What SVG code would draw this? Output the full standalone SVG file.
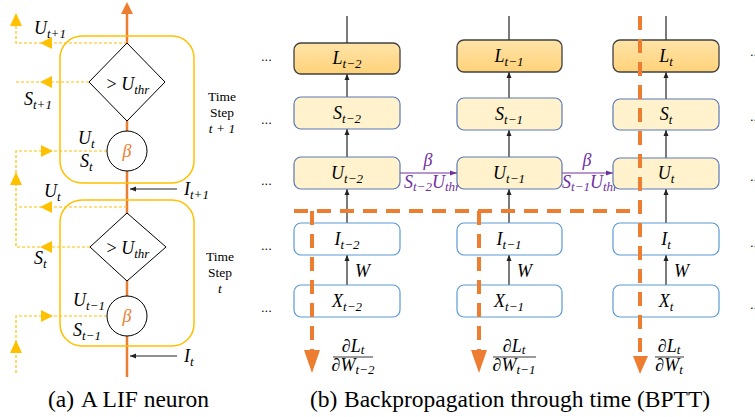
<svg xmlns="http://www.w3.org/2000/svg" width="755" height="417" viewBox="0 0 755 417">
<style>
.m{font-family:"Liberation Serif","DejaVu Serif",serif;font-style:italic;font-size:18px;fill:#000}
.s{font-size:13px}
.up{font-style:normal}
.tx{font-family:"Liberation Serif",serif;font-size:13.5px;fill:#000;text-anchor:middle}
.cap{font-family:"Liberation Serif",serif;font-size:23.5px;fill:#000}
.dots{font-family:"Liberation Sans",sans-serif;font-size:13px;fill:#000}
.gbox{fill:none;stroke:#FFC000;stroke-width:1.5}
.shape{fill:#fff;stroke:#000;stroke-width:1}
.gd{fill:none;stroke:#FFC000;stroke-width:1.2;stroke-dasharray:3 2}
.gh{fill:#FFC000}
.lbox{fill:url(#lg);stroke:#404040;stroke-width:1.3}
.ybox{fill:#FFF2CC;stroke:#5A78B4;stroke-width:1.2}
.wbox{fill:#fff;stroke:#5B9BD5;stroke-width:1.2}
.blk{stroke:#222;stroke-width:1.2;fill:none}
.od{fill:none;stroke:#ED7D31;stroke-width:4;stroke-dasharray:14 9}
.oh{fill:#ED7D31}
.pu{stroke:#7030A0;stroke-width:1.2;fill:none}
</style>
<defs>
<linearGradient id="lg" x1="0" y1="0" x2="0" y2="1">
<stop offset="0" stop-color="#FFE4A8"/>
<stop offset="1" stop-color="#FFD27A"/>
</linearGradient>
<marker id="ab" markerWidth="6" markerHeight="6" refX="6" refY="3" orient="auto" markerUnits="userSpaceOnUse">
<path d="M0,0.5 L6,3 L0,5.5 z" fill="#222"/>
</marker>
<marker id="ap" markerWidth="7" markerHeight="6" refX="7" refY="3" orient="auto" markerUnits="userSpaceOnUse">
<path d="M0,0.5 L7,3 L0,5.5 z" fill="#7030A0"/>
</marker>
</defs>

<!-- (a) LIF neuron -->
<g id="connectors-a">
<line x1="127" y1="12" x2="127" y2="377" stroke="#ED7D31" stroke-width="2.5"/>
<polygon class="oh" points="121,14 133,14 127,2"/>
<path class="gd" d="M127,43 H16 V24"/>
<path class="gd" d="M89,82 H16"/>
<polygon class="gh" points="40,43 52,37 52,49"/>
<polygon class="gh" points="40,82 52,76 52,88"/>
<polygon class="gh" points="16,13 10,26 22,26"/>
<path class="gd" d="M107,151 H16 V184"/>
<polygon class="gh" points="53,151 41,145 41,157"/>
<path class="gd" d="M127,207 H16"/>
<path class="gd" d="M90,247 H16 V184"/>
<polygon class="gh" points="40,207 52,201 52,213"/>
<polygon class="gh" points="40,247 52,241 52,253"/>
<polygon class="gh" points="16,172 10,185 22,185"/>
<path class="gd" d="M107,316 H16 V374"/>
<polygon class="gh" points="53,316 41,310 41,322"/>
<polygon class="gh" points="16,340 10,353 22,353"/>
<line class="blk" x1="177" y1="189" x2="130" y2="189" marker-end="url(#ab)"/>
<line class="blk" x1="177" y1="356" x2="130" y2="356" marker-end="url(#ab)"/>
</g>

<g id="step-t1">
<rect class="gbox" x="60" y="36" width="134" height="147" rx="22"/>
</g>
<g id="threshold-t1">
<polygon class="shape" points="127,43 165,82 127,121 89,82"/>
<text class="m" x="128" y="90" text-anchor="middle"><tspan class="up">&gt; </tspan>U<tspan class="s" dy="4">thr</tspan></text>
</g>
<g id="decay-t1">
<circle class="shape" cx="127" cy="151" r="20"/>
<text class="m" x="127" y="157" text-anchor="middle" style="fill:#ED7D31">β</text>
</g>
<g id="step-t">
<rect class="gbox" x="60" y="200" width="134" height="146" rx="22"/>
</g>
<g id="threshold-t">
<polygon class="shape" points="127,213 166,247 127,281 90,247"/>
<text class="m" x="128" y="254" text-anchor="middle"><tspan class="up">&gt; </tspan>U<tspan class="s" dy="4">thr</tspan></text>
</g>
<g id="decay-t">
<circle class="shape" cx="127" cy="316" r="20"/>
<text class="m" x="127" y="322" text-anchor="middle" style="fill:#ED7D31">β</text>
</g>

<g id="labels-a">
<text class="m" x="34" y="34">U<tspan class="s" dy="4">t+1</tspan></text>
<text class="m" x="24" y="105">S<tspan class="s" dy="4">t+1</tspan></text>
<text class="m" x="78" y="144">U<tspan class="s" dy="4">t</tspan></text>
<text class="m" x="80" y="167">S<tspan class="s" dy="4">t</tspan></text>
<text class="m" x="44" y="197">U<tspan class="s" dy="4">t</tspan></text>
<text class="m" x="34" y="264">S<tspan class="s" dy="4">t</tspan></text>
<text class="m" x="73" y="306">U<tspan class="s" dy="4">t−1</tspan></text>
<text class="m" x="73" y="336">S<tspan class="s" dy="4">t−1</tspan></text>
<text class="m" x="184" y="195">I<tspan class="s" dy="4">t+1</tspan></text>
<text class="m" x="184" y="362">I<tspan class="s" dy="4">t</tspan></text>
<text class="tx" x="222" y="101">Time</text>
<text class="tx" x="222" y="117">Step</text>
<text class="tx" x="222" y="133" font-style="italic">t + 1</text>
<text class="tx" x="220" y="261">Time</text>
<text class="tx" x="220" y="277">Step</text>
<text class="tx" x="220" y="293" font-style="italic">t</text>
<text class="cap" x="48" y="407">(a)</text>
<text class="cap" x="81" y="407">A LIF neuron</text>
</g>

<!-- (b) BPTT -->
<g id="connectors-b">
<line class="blk" x1="347" y1="16" x2="347" y2="43"/>
<line class="blk" x1="509" y1="16" x2="509" y2="40"/>
<line class="blk" x1="666" y1="16" x2="666" y2="40"/>
<line class="blk" x1="347" y1="97" x2="347" y2="74" marker-end="url(#ab)"/>
<line class="blk" x1="509" y1="98" x2="509" y2="72" marker-end="url(#ab)"/>
<line class="blk" x1="666" y1="99" x2="666" y2="72" marker-end="url(#ab)"/>
<line class="blk" x1="347" y1="157" x2="347" y2="129" marker-end="url(#ab)"/>
<line class="blk" x1="509" y1="157" x2="509" y2="130" marker-end="url(#ab)"/>
<line class="blk" x1="666" y1="158" x2="666" y2="130" marker-end="url(#ab)"/>
<line class="blk" x1="347" y1="223" x2="347" y2="189" marker-end="url(#ab)"/>
<line class="blk" x1="509" y1="223" x2="509" y2="189" marker-end="url(#ab)"/>
<line class="blk" x1="666" y1="223" x2="666" y2="189" marker-end="url(#ab)"/>
<line class="blk" x1="347" y1="285" x2="347" y2="255" marker-end="url(#ab)"/>
<line class="blk" x1="509" y1="285" x2="509" y2="255" marker-end="url(#ab)"/>
<line class="blk" x1="666" y1="285" x2="666" y2="255" marker-end="url(#ab)"/>
<text class="m" x="355" y="277" font-size="16">W</text>
<text class="m" x="517" y="277" font-size="16">W</text>
<text class="m" x="674" y="277" font-size="16">W</text>
<line class="pu" x1="400" y1="173" x2="457" y2="173" marker-end="url(#ap)"/>
<line class="pu" x1="562" y1="173" x2="613" y2="173" marker-end="url(#ap)"/>
<text class="m" x="428" y="166" text-anchor="middle" style="fill:#7030A0">β</text>
<text class="m" x="587" y="166" text-anchor="middle" style="fill:#7030A0">β</text>
<text class="m" x="404" y="188" style="fill:#7030A0" font-size="16">S<tspan class="s" font-size="12" dy="3">t−2</tspan><tspan dy="-3">U</tspan><tspan class="s" font-size="12" dy="3">thr</tspan></text>
<text class="m" x="562" y="188" style="fill:#7030A0" font-size="16">S<tspan class="s" font-size="12" dy="3">t−1</tspan><tspan dy="-3">U</tspan><tspan class="s" font-size="12" dy="3">thr</tspan></text>
</g>

<g id="col-t2">
<g id="L-t2"><rect class="lbox" x="294" y="43" width="106" height="31" rx="7"/><text class="m" x="347" y="64" text-anchor="middle">L<tspan class="s" dy="4">t−2</tspan></text></g>
<g id="S-t2"><rect class="ybox" x="294" y="97" width="106" height="32" rx="7"/><text class="m" x="347" y="119" text-anchor="middle">S<tspan class="s" dy="4">t−2</tspan></text></g>
<g id="U-t2"><rect class="ybox" x="294" y="157" width="106" height="32" rx="7"/><text class="m" x="347" y="179" text-anchor="middle">U<tspan class="s" dy="4">t−2</tspan></text></g>
<g id="I-t2"><rect class="wbox" x="294" y="223" width="106" height="32" rx="7"/><text class="m" x="347" y="245" text-anchor="middle">I<tspan class="s" dy="4">t−2</tspan></text></g>
<g id="X-t2"><rect class="wbox" x="294" y="285" width="106" height="32" rx="7"/><text class="m" x="347" y="307" text-anchor="middle">X<tspan class="s" dy="4">t−2</tspan></text></g>
</g>
<g id="col-t1">
<g id="L-t1"><rect class="lbox" x="457" y="40" width="105" height="32" rx="7"/><text class="m" x="509" y="62" text-anchor="middle">L<tspan class="s" dy="4">t−1</tspan></text></g>
<g id="S-t1"><rect class="ybox" x="457" y="98" width="105" height="32" rx="7"/><text class="m" x="509" y="120" text-anchor="middle">S<tspan class="s" dy="4">t−1</tspan></text></g>
<g id="U-t1"><rect class="ybox" x="457" y="157" width="105" height="32" rx="7"/><text class="m" x="509" y="179" text-anchor="middle">U<tspan class="s" dy="4">t−1</tspan></text></g>
<g id="I-t1"><rect class="wbox" x="457" y="223" width="105" height="32" rx="7"/><text class="m" x="509" y="245" text-anchor="middle">I<tspan class="s" dy="4">t−1</tspan></text></g>
<g id="X-t1"><rect class="wbox" x="457" y="285" width="105" height="32" rx="7"/><text class="m" x="509" y="307" text-anchor="middle">X<tspan class="s" dy="4">t−1</tspan></text></g>
</g>
<g id="col-t">
<g id="L-t"><rect class="lbox" x="613" y="40" width="106" height="32" rx="7"/><text class="m" x="666" y="62" text-anchor="middle">L<tspan class="s" dy="4">t</tspan></text></g>
<g id="S-t"><rect class="ybox" x="613" y="99" width="106" height="31" rx="7"/><text class="m" x="666" y="120" text-anchor="middle">S<tspan class="s" dy="4">t</tspan></text></g>
<g id="U-t"><rect class="ybox" x="613" y="158" width="106" height="31" rx="7"/><text class="m" x="666" y="179" text-anchor="middle">U<tspan class="s" dy="4">t</tspan></text></g>
<g id="I-t"><rect class="wbox" x="613" y="223" width="106" height="32" rx="7"/><text class="m" x="666" y="245" text-anchor="middle">I<tspan class="s" dy="4">t</tspan></text></g>
<g id="X-t"><rect class="wbox" x="613" y="285" width="106" height="32" rx="7"/><text class="m" x="666" y="307" text-anchor="middle">X<tspan class="s" dy="4">t</tspan></text></g>
</g>

<g id="bptt-path">
<path class="od" d="M294,211 H632"/>
<path class="od" d="M312,211 V350"/>
<path class="od" d="M479,211 V350"/>
<path class="od" d="M640,16 V356"/>
<polygon class="oh" points="304,350 320,350 312,373"/>
<polygon class="oh" points="471,350 487,350 479,373"/>
<polygon class="oh" points="633,356 648,356 640,374"/>
</g>

<g id="gradients">
<text class="m" x="353" y="352" text-anchor="middle" font-size="15">∂L<tspan class="s" font-size="11" dy="2">t</tspan></text>
<line x1="333" y1="357" x2="373" y2="357" stroke="#000" stroke-width="0.8"/>
<text class="m" x="353" y="371" text-anchor="middle" font-size="15">∂W<tspan class="s" font-size="11" dy="3">t−2</tspan></text>
<text class="m" x="514" y="352" text-anchor="middle" font-size="15">∂L<tspan class="s" font-size="11" dy="2">t</tspan></text>
<line x1="493" y1="357" x2="536" y2="357" stroke="#000" stroke-width="0.8"/>
<text class="m" x="514" y="371" text-anchor="middle" font-size="15">∂W<tspan class="s" font-size="11" dy="3">t−1</tspan></text>
<text class="m" x="669" y="352" text-anchor="middle" font-size="15">∂L<tspan class="s" font-size="11" dy="2">t</tspan></text>
<line x1="655" y1="357" x2="684" y2="357" stroke="#000" stroke-width="0.8"/>
<text class="m" x="669" y="371" text-anchor="middle" font-size="15">∂W<tspan class="s" font-size="11" dy="3">t</tspan></text>
</g>

<g id="ellipses">
<text class="dots" x="261" y="61">...</text>
<text class="dots" x="261" y="124">...</text>
<text class="dots" x="261" y="185">...</text>
<text class="dots" x="261" y="250">...</text>
<text class="dots" x="261" y="312">...</text>
<text class="dots" x="750" y="56">...</text>
<text class="dots" x="750" y="121">...</text>
<text class="dots" x="750" y="181">...</text>
<text class="dots" x="750" y="247">...</text>
<text class="dots" x="750" y="309">...</text>
<text class="cap" x="310" y="407">(b)</text>
<text class="cap" x="344" y="407">Backpropagation through time (BPTT)</text>
</g>
</svg>
